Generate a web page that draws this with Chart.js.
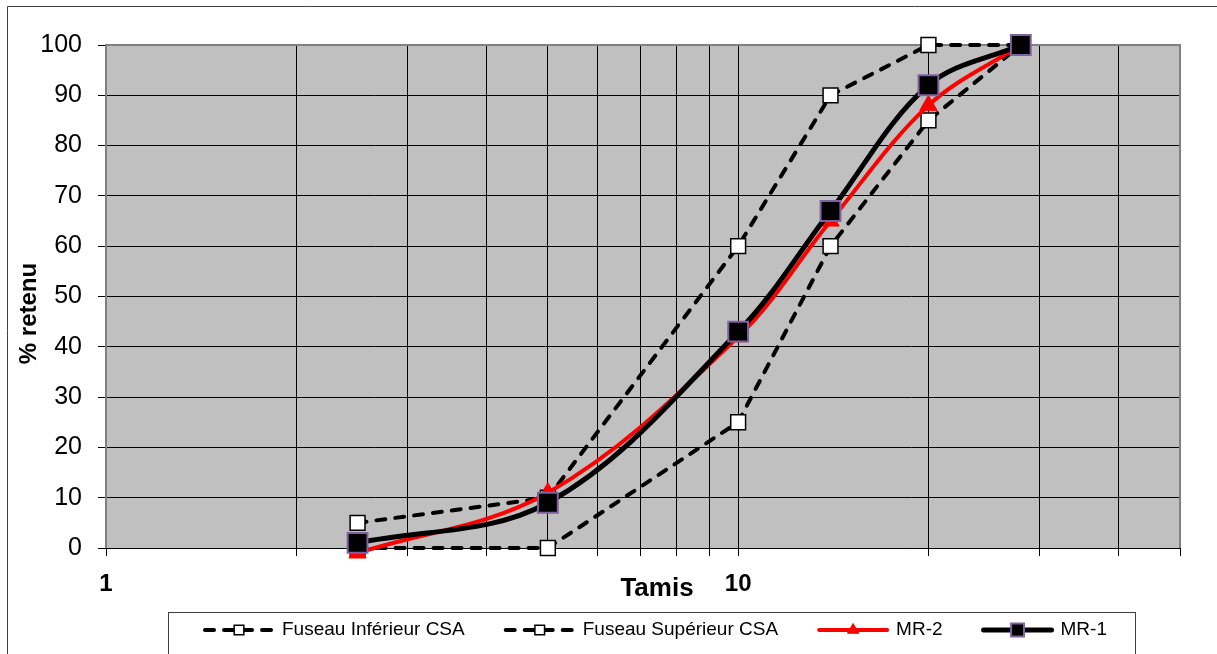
<!DOCTYPE html>
<html>
<head>
<meta charset="utf-8">
<script src="https://cdn.jsdelivr.net/npm/chart.js@4.4.0/dist/chart.umd.min.js"></script>
<style>
  body { margin: 0; background: #fff; }
  #wrap { position: relative; width: 1217px; height: 654px; }
</style>
</head>
<body>
<div id="wrap"><canvas id="myChart"></canvas></div>
<script>
// sieve sizes (x) and % retained for each curve
const sieves = [2.5, 5, 10, 14, 20, 28];
const fuseauInf = [0, 0, 25, 60, 85, 100];
const fuseauSup = [5, 10, 60, 90, 100, 100];
const mr2 = [-1, 11, 42, 65, 88, 100];
const mr1 = [1, 9, 43, 67, 92, 100];
const seriesNames = ['Fuseau Inférieur CSA', 'Fuseau Supérieur CSA', 'MR-2', 'MR-1'];
const xGrid = [1, 2, 3, 4, 5, 6, 7, 8, 9, 10, 20, 30, 40, 50];
const xLabels = [1, 10];
const xTitle = 'Tamis';
const yTitle = '% retenu';

const FONT = "'Liberation Sans', Arial, sans-serif";

function pts(ys) {
  return sieves.map((x, i) => ({x: x, y: ys[i]}));
}

function marker(ctx, style, x, y, r, fill, stroke, bw) {
  ctx.save();
  ctx.setLineDash([]);
  ctx.fillStyle = fill;
  ctx.strokeStyle = stroke;
  ctx.lineWidth = bw;
  ctx.beginPath();
  if (style === 'triangle') {
    ctx.moveTo(x, y - r);
    ctx.lineTo(x + r * 0.866, y + r / 2);
    ctx.lineTo(x - r * 0.866, y + r / 2);
    ctx.closePath();
  } else {
    const s = r * Math.SQRT1_2;
    ctx.rect(x - s, y - s, 2 * s, 2 * s);
  }
  ctx.fill();
  if (bw > 0) ctx.stroke();
  ctx.restore();
}

// outer frame, grey plot background, plot border and axis titles
const frame = {
  id: 'frame',
  beforeDraw(chart) {
    const {ctx, chartArea: a} = chart;
    ctx.save();
    ctx.fillStyle = '#fff';
    ctx.fillRect(0, 0, chart.width, chart.height);
    ctx.strokeStyle = '#404040';
    ctx.lineWidth = 1;
    ctx.beginPath();
    ctx.moveTo(7.5, chart.height);
    ctx.lineTo(7.5, 6.5);
    ctx.lineTo(chart.width, 6.5);
    ctx.stroke();
    ctx.fillStyle = '#c0c0c0';
    ctx.fillRect(a.left, a.top, a.right - a.left, a.bottom - a.top);
    ctx.restore();
  },
  beforeDatasetsDraw(chart) {
    const {ctx, chartArea: a} = chart;
    ctx.save();
    ctx.strokeStyle = '#808080';
    ctx.lineWidth = 2;
    ctx.beginPath();
    ctx.moveTo(a.left, a.bottom);
    ctx.lineTo(a.left, a.top);
    ctx.lineTo(a.right, a.top);
    ctx.lineTo(a.right, a.bottom);
    ctx.stroke();
    ctx.strokeStyle = '#000';
    ctx.lineWidth = 1;
    ctx.beginPath();
    ctx.moveTo(a.left, a.bottom + 0.5);
    ctx.lineTo(a.right, a.bottom + 0.5);
    ctx.stroke();

    // axis titles (Excel places them a little off centre)
    ctx.fillStyle = '#000';
    ctx.textAlign = 'center';
    ctx.textBaseline = 'middle';
    ctx.font = 'bold 26px ' + FONT;
    ctx.fillText(xTitle, (a.left + a.right) / 2 + 14, 589);
    ctx.font = 'bold 24px ' + FONT;
    ctx.translate(29, (a.top + a.bottom) / 2 + 17);
    ctx.rotate(-Math.PI / 2);
    ctx.fillText(yTitle, 0, 0);
    ctx.restore();
  }
};

// legend in a bordered box below the axis
const boxLegend = {
  id: 'boxLegend',
  afterDraw(chart) {
    const ctx = chart.ctx;
    const box = {left: 168.5, top: 612.5, right: 1135.5, bottom: chart.height + 2};
    ctx.save();
    ctx.strokeStyle = '#404040';
    ctx.lineWidth = 1;
    ctx.strokeRect(box.left, box.top, box.right - box.left, box.bottom - box.top);

    ctx.font = '19px ' + FONT;
    ctx.textBaseline = 'middle';
    ctx.fillStyle = '#000';
    const sample = 72, gap = 7, spacing = 39;
    const dsets = chart.data.datasets;
    const widths = dsets.map(d => ctx.measureText(d.label).width);
    const total = widths.reduce((s, w) => s + sample + gap + w, 0) + spacing * (dsets.length - 1);
    let x = (box.left + box.right) / 2 - total / 2 + 3;
    const y = 630;
    dsets.forEach((d, i) => {
      ctx.save();
      ctx.strokeStyle = d.borderColor;
      ctx.lineWidth = d.borderWidth;
      ctx.lineCap = 'round';
      ctx.setLineDash(d.borderDash || []);
      ctx.beginPath();
      ctx.moveTo(x + 2, y);
      ctx.lineTo(x + sample - 2, y);
      ctx.stroke();
      ctx.restore();
      marker(ctx, d.pointStyle, x + sample / 2, y, d.pointRadius * 0.65,
        d.pointBackgroundColor, d.pointBorderColor, d.pointBorderWidth);
      ctx.fillStyle = '#000';
      ctx.fillText(d.label, x + sample + gap, y);
      x += sample + gap + widths[i] + spacing;
    });
    ctx.restore();
  }
};

const ctx = document.getElementById('myChart').getContext('2d');
const chart = new Chart(ctx, {
  type: 'line',
  data: {
    datasets: [
      {
        label: seriesNames[0],
        data: pts(fuseauInf),
        borderColor: '#000',
        borderWidth: 4,
        borderDash: [9, 10],
        borderCapStyle: 'round',
        tension: 0,
        pointStyle: 'rect',
        pointRadius: 10.5,
        pointBackgroundColor: '#fff',
        pointBorderColor: '#000',
        pointBorderWidth: 1.5,
        order: 3,
        clip: false
      },
      {
        label: seriesNames[1],
        data: pts(fuseauSup),
        borderColor: '#000',
        borderWidth: 4,
        borderDash: [9, 10],
        borderCapStyle: 'round',
        tension: 0,
        pointStyle: 'rect',
        pointRadius: 10.5,
        pointBackgroundColor: '#fff',
        pointBorderColor: '#000',
        pointBorderWidth: 1.5,
        order: 2,
        clip: false
      },
      {
        label: seriesNames[2],
        data: pts(mr2),
        borderColor: '#ff0000',
        borderWidth: 4,
        tension: 0.35,
        pointStyle: 'triangle',
        pointRadius: 10,
        pointBackgroundColor: '#ff0000',
        pointBorderColor: '#ff0000',
        pointBorderWidth: 1,
        order: 1,
        clip: false
      },
      {
        label: seriesNames[3],
        data: pts(mr1),
        borderColor: '#000',
        borderWidth: 5,
        tension: 0.35,
        pointStyle: 'rect',
        pointRadius: 14,
        pointBackgroundColor: '#000',
        pointBorderColor: '#7f60a0',
        pointBorderWidth: 2,
        order: 0,
        clip: false
      }
    ]
  },
  options: {
    responsive: true,
    maintainAspectRatio: false,
    animation: false,
    events: [],
    layout: {padding: {left: 0, top: 45, right: 37, bottom: 49}},
    plugins: {
      legend: {display: false},
      tooltip: {enabled: false}
    },
    scales: {
      x: {
        type: 'logarithmic',
        min: 1,
        max: 50,
        afterBuildTicks: (scale) => {
          scale.ticks = xGrid.map(v => ({value: v}));
        },
        afterFit: (scale) => { scale.height = 57; },
        ticks: {
          autoSkip: false,
          maxRotation: 0,
          padding: 14,
          color: '#000',
          font: {family: FONT, size: 24, weight: 'bold'},
          callback: (value) => xLabels.includes(value) ? String(value) : ''
        },
        grid: {color: '#000', lineWidth: 1, tickColor: '#000', tickLength: 8},
        border: {display: false},
        title: {display: false}
      },
      y: {
        min: 0,
        max: 100,
        afterFit: (scale) => { scale.width = 106; },
        ticks: {
          stepSize: 10,
          padding: 16,
          color: '#000',
          font: {family: FONT, size: 25}
        },
        grid: {color: '#000', lineWidth: 1, tickColor: '#000', tickLength: 8},
        border: {display: false},
        title: {display: false}
      }
    }
  },
  plugins: [frame, boxLegend]
});
</script>
</body>
</html>
